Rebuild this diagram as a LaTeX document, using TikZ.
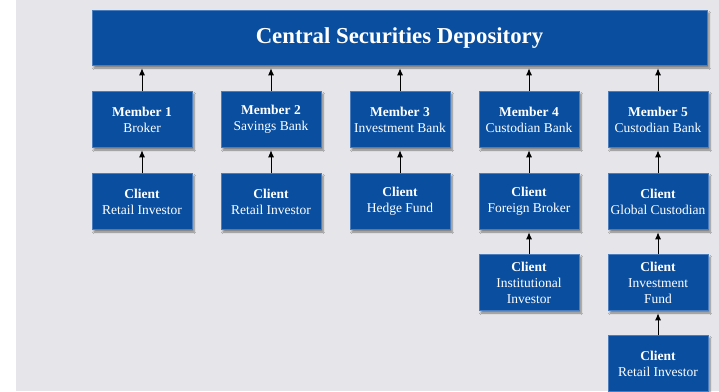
\documentclass[tikz,border=0pt]{standalone}
\usepackage{fontspec}
\setmainfont{Liberation Serif}
\usetikzlibrary{positioning,arrows.meta,shadows.blur}

\definecolor{csdblue}{HTML}{0A4E9F}
\definecolor{csdedge}{HTML}{4A7DBE}
\definecolor{bggray}{HTML}{E6E6EA}

\begin{document}
\begin{tikzpicture}[
    x=1pt, y=-1pt,
    box/.style={rectangle, fill=csdblue, draw=csdedge, line width=0.5pt, text=white,
        minimum width=100pt, minimum height=56pt, inner sep=0pt, align=center,
        font=\fontsize{13.5}{16}\selectfont,
        blur shadow={shadow xshift=2pt, shadow yshift=-2.5pt, shadow blur steps=6, shadow opacity=45}},
    topbox/.style={box, minimum width=615pt, minimum height=55pt,
        font=\fontsize{22.8}{26}\selectfont\bfseries},
    arrow/.style={-{Latex[length=7pt, width=6pt]}, line width=1pt, shorten >=2.5pt},
]
\useasboundingbox (0,0) rectangle (719,391);
\fill[bggray] (16,0) rectangle (719,391);

% ====== Depository ======
\node[topbox] (csd) at (399.5, 38) {Central Securities Depository};

% ====== Members ======
\node[box] (m1) at (142, 119.5) {\textbf{Member 1}\\Broker};
\node[box] (m2) at (271, 119.5) {\textbf{Member 2}\\Savings Bank};
\node[box] (m3) at (400, 119.5) {\textbf{Member 3}\\Investment Bank};
\node[box] (m4) at (529, 119.5) {\textbf{Member 4}\\Custodian Bank};
\node[box] (m5) at (658, 119.5) {\textbf{Member 5}\\Custodian Bank};

% ====== Clients ======
\node[box] (c1) at (142, 201.5) {\textbf{Client}\\Retail Investor};
\node[box] (c2) at (271, 201.5) {\textbf{Client}\\Retail Investor};
\node[box] (c3) at (400, 201.5) {\textbf{Client}\\Hedge Fund};
\node[box] (c4) at (529, 201.5) {\textbf{Client}\\Foreign Broker};
\node[box] (c5) at (658, 201.5) {\textbf{Client}\\Global Custodian};
\node[box] (c4a) at (529, 282.5) {\textbf{Client}\\Institutional\\Investor};
\node[box] (c5a) at (658, 282.5) {\textbf{Client}\\Investment\\Fund};
\node[box] (c5b) at (658, 363.5) {\textbf{Client}\\Retail Investor};

% ====== Arrows ======
\foreach \m in {m1,m2,m3,m4,m5}
  \draw[arrow] (\m.north) -- (\m.north |- csd.south);
\draw[arrow] (c1) -- (m1);
\draw[arrow] (c2) -- (m2);
\draw[arrow] (c3) -- (m3);
\draw[arrow] (c4) -- (m4);
\draw[arrow] (c5) -- (m5);
\draw[arrow] (c4a) -- (c4);
\draw[arrow] (c5a) -- (c5);
\draw[arrow] (c5b) -- (c5a);

\end{tikzpicture}
\end{document}
